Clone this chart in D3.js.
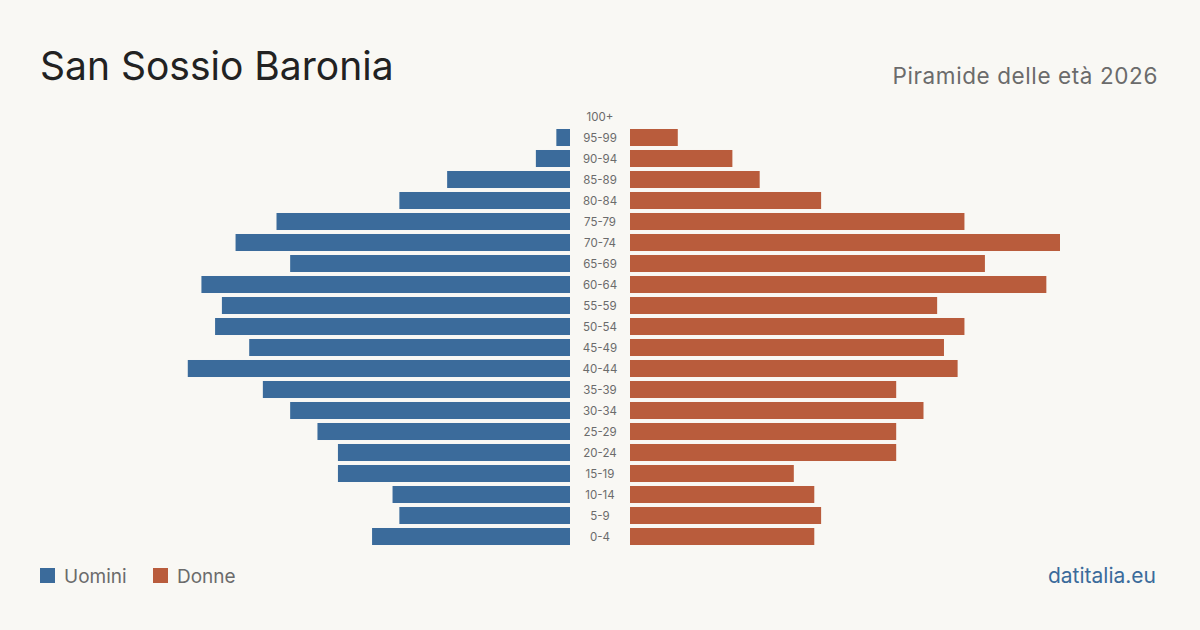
<!DOCTYPE html>
<html>
<head>
<meta charset="utf-8">
<script src="https://cdn.jsdelivr.net/npm/d3@7"></script>
<style>
  body { margin: 0; background: #f9f8f4; }
  svg { display: block; font-family: "Inter", "Liberation Sans", sans-serif; }
</style>
</head>
<body>
<div id="chart"></div>
<script>
const ageGroups = ["100+", "95-99", "90-94", "85-89", "80-84", "75-79", "70-74", "65-69", "60-64", "55-59",
  "50-54", "45-49", "40-44", "35-39", "30-34", "25-29", "20-24", "15-19", "10-14", "5-9", "0-4"]
const uomini = [0, 2, 5, 18, 25, 43, 49, 41, 54, 51, 52, 47, 56, 45, 41, 37, 34, 34, 26, 25, 29]
const donne = [0, 7, 15, 19, 28, 49, 63, 52, 61, 45, 49, 46, 48, 39, 43, 39, 39, 24, 27, 28, 27]

const width = 1200, height = 630
const blue = "#3b6b9b", red = "#b95c3c"

const svg = d3.select("#chart").append("svg")
    .attr("width", width).attr("height", height)

svg.append("rect").attr("width", width).attr("height", height).attr("fill", "#f9f8f4")

// title + subtitle
svg.append("text").attr("x", 40).attr("y", 80)
    .attr("font-size", 39).attr("fill", "#222")
    .text("San Sossio Baronia")

svg.append("text").attr("x", 1158).attr("y", 84)
    .attr("text-anchor", "end").attr("font-size", 22.5).attr("fill", "#6b6b6b")
    .attr("letter-spacing", 0.6)
    .text("Piramide delle età 2026")

// scales
const maxVal = d3.max(uomini.concat(donne))
const y = d3.scaleBand().domain(ageGroups).range([106, 547])
    .paddingInner(0.19).paddingOuter(0.095)
const xLeft = d3.scaleLinear().domain([0, maxVal]).range([570, 140])
const xRight = d3.scaleLinear().domain([0, maxVal]).range([630, 1060])

svg.append("g").selectAll("rect")
    .data(ageGroups)
    .enter()
    .append("rect")
    .attr("x", (d, i) => xLeft(uomini[i]))
    .attr("y", d => y(d))
    .attr("width", (d, i) => xLeft(0) - xLeft(uomini[i]))
    .attr("height", y.bandwidth())
    .attr("fill", blue)

svg.append("g").selectAll("rect")
    .data(ageGroups)
    .enter()
    .append("rect")
    .attr("x", xRight(0))
    .attr("y", d => y(d))
    .attr("width", (d, i) => xRight(donne[i]) - xRight(0))
    .attr("height", y.bandwidth())
    .attr("fill", red)

svg.append("g").selectAll("text")
    .data(ageGroups)
    .enter()
    .append("text")
    .attr("x", 600)
    .attr("y", d => y(d) + y.bandwidth() / 2)
    .attr("dy", "0.35em")
    .attr("text-anchor", "middle")
    .attr("font-size", 11.5)
    .attr("fill", "#6b6b6b")
    .text(d => d)

// legend
const legend = [["Uomini", blue, 40], ["Donne", red, 153]]
legend.forEach(l => {
    svg.append("rect").attr("x", l[2]).attr("y", 568).attr("width", 15).attr("height", 15).attr("fill", l[1])
    svg.append("text").attr("x", l[2] + 24).attr("y", 583)
        .attr("font-size", 19).attr("fill", "#6b6b6b").text(l[0])
})

svg.append("text").attr("x", 1156).attr("y", 583)
    .attr("text-anchor", "end").attr("font-size", 21).attr("fill", blue)
    .text("datitalia.eu")
</script>
</body>
</html>
